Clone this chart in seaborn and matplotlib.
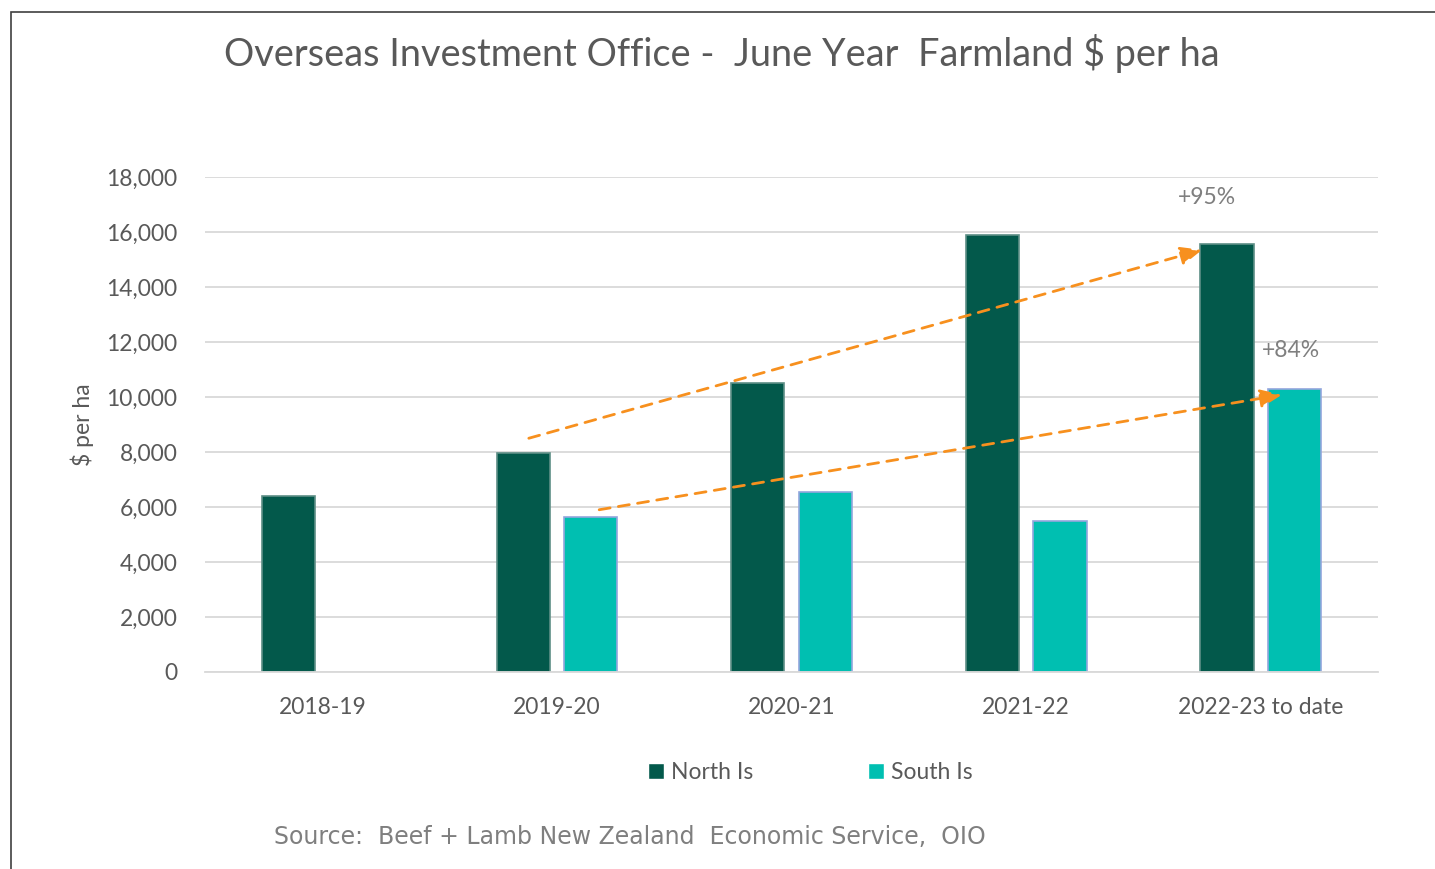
import pandas as pd
import seaborn as sns
import matplotlib.pyplot as plt
from matplotlib.patches import Rectangle
from matplotlib.ticker import FuncFormatter, MultipleLocator

# values, $ per ha
years = ["2018-19", "2019-20", "2020-21", "2021-22", "2022-23 to date"]
north = [6400, 7960, 10500, 15890, 15560]
south = [None, 5640, 6550, 5490, 10290]
islands = ["North Is", "South Is"]

# growth arrows: (start x, start y, end x, end y, label, label x, label y)
arrow_north = (0.88, 8500, 3.75, 15350, "+95%", 3.77, 17250)
arrow_south = (1.18, 5900, 4.09, 10080, "+84%", 4.13, 11700)

rows = []
for yr, n, s in zip(years, north, south):
    rows.append((yr, "North Is", n))
    if s is not None:
        rows.append((yr, "South Is", s))
df = pd.DataFrame(rows, columns=["year", "island", "value"])

sns.set_style("white")
plt.rcParams["font.family"] = ["Lato", "DejaVu Sans"]
grey = "#595959"

fig = plt.figure(figsize=(14.35, 8.69), dpi=100)
ax = fig.add_axes([0.1429, 0.2267, 0.8174, 0.5696])

palette = {"North Is": "#03594B", "South Is": "#00BFB1"}
sns.barplot(data=df, x="year", y="value", hue="island", order=years,
            hue_order=islands, palette=palette, width=0.575, gap=0.21,
            saturation=1, ax=ax, legend=True)
for cont, ec in zip(ax.containers, ["#5E8F86", "#93A6DD"]):
    for bar in cont:
        bar.set_edgecolor(ec)
        bar.set_linewidth(1.2)

ax.set_ylim(0, 18000)
ax.set_xlim(-0.5, 4.5)
ax.yaxis.set_major_locator(MultipleLocator(2000))
ax.yaxis.set_major_formatter(FuncFormatter(lambda v, p: f"{int(v):,}"))
ax.grid(axis="y", color="#D9D9D9", linewidth=1.3)
ax.set_axisbelow(True)
for sp in ["top", "right", "left"]:
    ax.spines[sp].set_visible(False)
ax.spines["bottom"].set_color("#D9D9D9")
ax.spines["bottom"].set_linewidth(1.3)
ax.tick_params(axis="both", length=0, labelsize=16.5, labelcolor=grey)
ax.tick_params(axis="y", pad=20)
ax.tick_params(axis="x", pad=18)
ax.set_xlabel("")
ax.set_ylabel("$ per ha", fontsize=16.5, color=grey, labelpad=9)

orange = "#F7901E"
for x0, y0, x1, y1, lab, lx, ly in [arrow_north, arrow_south]:
    ax.annotate("", xy=(x1, y1), xytext=(x0, y0),
                arrowprops=dict(arrowstyle="-|>,head_length=1.3,head_width=0.55",
                                color=orange, lw=2, linestyle=(0, (4, 3)),
                                shrinkA=0, shrinkB=0))
    ax.text(lx, ly, lab, ha="center", va="center", fontsize=16.5, color="#7F7F7F")

leg = ax.legend(loc="upper center", bbox_to_anchor=(0.516, -0.14), ncol=2,
                frameon=False, fontsize=16.5, handlelength=0.7, handleheight=0.7,
                columnspacing=5.0, handletextpad=0.3)
for t in leg.get_texts():
    t.set_color(grey)

fig.text(0.503, 0.938, "Overseas Investment Office -  June Year  Farmland $ per ha",
         ha="center", va="center", fontsize=27.3, color=grey)
fig.text(0.191, 0.037, "Source:  Beef + Lamb New Zealand  Economic Service,  OIO",
         ha="left", va="center", fontsize=17, color="#7F7F7F",
         family=["DejaVu Sans"])

fig.patches.append(Rectangle((11 / 1435, -0.1), 1.2, 1.1 - 12 / 869,
                             transform=fig.transFigure, fill=False,
                             edgecolor="#404040", linewidth=1.2))

fig.savefig("out.png", dpi=100)
